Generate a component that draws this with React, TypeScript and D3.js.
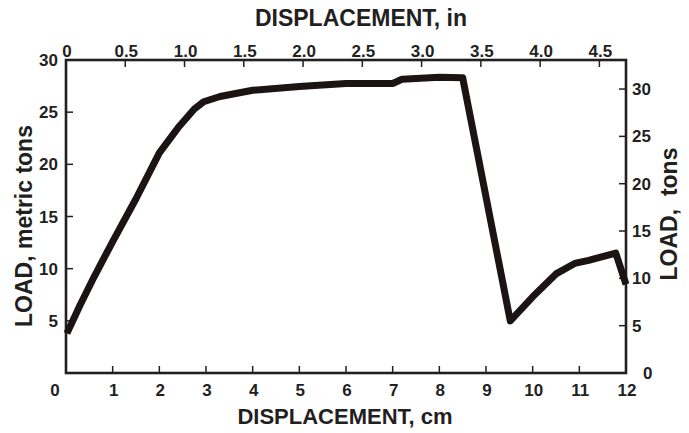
import React from "react";
import * as d3 from "d3";

// load vs displacement
const displacementCm = [0.02, 0.3, 0.6, 1.0, 1.5, 2.0, 2.4, 2.75, 2.95, 3.3, 4.0, 5.0, 6.0, 7.0, 7.2, 8.0, 8.5, 9.52, 10.0, 10.5, 10.9, 11.2, 11.78, 12.0];
const loadMetric = [3.8, 6.5, 9.2, 12.6, 16.7, 21.1, 23.5, 25.3, 26.0, 26.5, 27.1, 27.45, 27.75, 27.75, 28.15, 28.35, 28.3, 5.0, 7.3, 9.5, 10.5, 10.8, 11.5, 8.5];

const cmTicks = [0, 1, 2, 3, 4, 5, 6, 7, 8, 9, 10, 11, 12];
const inTicks = ["0", "0.5", "1.0", "1.5", "2.0", "2.5", "3.0", "3.5", "4.0", "4.5"];
const metricTicks = [5, 10, 15, 20, 25, 30];
const tonTicks = [0, 5, 10, 15, 20, 25, 30];

const CM_PER_IN = 2.54;
const TON_PER_METRIC = 1.10231;

const W = 689, H = 433;
const margin = { left: 66, right: 63, top: 60, bottom: 60 };
const FONT = "'Liberation Sans', Arial, sans-serif";
const INK = "#231f1e";

const App = () => {
  const svgRef = React.useRef(null);

  React.useEffect(() => {
    const width = W - margin.left - margin.right;
    const height = H - margin.top - margin.bottom;

    const x = d3.scaleLinear().domain([0, 12]).range([0, width]);
    const y = d3.scaleLinear().domain([0, 30]).range([height, 0]);
    // same pixels, other units
    const xIn = d3.scaleLinear().domain([0, 12 / CM_PER_IN]).range([0, width]);
    const yTon = d3.scaleLinear().domain([0, 30 * TON_PER_METRIC]).range([height, 0]);

    const svgEl = d3.select(svgRef.current);
    svgEl.selectAll("*").remove();
    const svg = svgEl.append("g").attr("transform", `translate(${margin.left},${margin.top})`);

    const tickLen = 7;

    // bottom cm axis
    const bottom = svg.append("g").attr("transform", `translate(0,${height})`);
    bottom.selectAll("line").data(cmTicks.slice(1, -1)).enter().append("line")
      .attr("x1", (d) => x(d)).attr("x2", (d) => x(d))
      .attr("y1", 0).attr("y2", -tickLen)
      .attr("stroke", INK).attr("stroke-width", 1.5);
    bottom.selectAll("text").data(cmTicks).enter().append("text")
      .attr("x", (d) => x(d) + (d === 0 ? -11 : 1))
      .attr("y", 23)
      .attr("text-anchor", "middle")
      .text((d) => d);

    // top inch axis
    const top = svg.append("g");
    top.selectAll("line").data(inTicks.slice(1)).enter().append("line")
      .attr("x1", (d) => xIn(+d)).attr("x2", (d) => xIn(+d))
      .attr("y1", 0).attr("y2", tickLen)
      .attr("stroke", INK).attr("stroke-width", 1.5);
    top.selectAll("text").data(inTicks).enter().append("text")
      .attr("x", (d) => xIn(+d) + 1)
      .attr("y", -3)
      .attr("text-anchor", "middle")
      .text((d) => d);

    // left metric tons axis
    const left = svg.append("g");
    left.selectAll("line").data(metricTicks.slice(0, -1)).enter().append("line")
      .attr("x1", 0).attr("x2", tickLen)
      .attr("y1", (d) => y(d)).attr("y2", (d) => y(d))
      .attr("stroke", INK).attr("stroke-width", 1.5);
    left.selectAll("text").data(metricTicks).enter().append("text")
      .attr("x", -8)
      .attr("y", (d) => y(d) + 6)
      .attr("text-anchor", "end")
      .text((d) => d);

    // right tons axis
    const right = svg.append("g").attr("transform", `translate(${width},0)`);
    right.selectAll("line").data(tonTicks.slice(1)).enter().append("line")
      .attr("x1", 0).attr("x2", -tickLen)
      .attr("y1", (d) => yTon(d)).attr("y2", (d) => yTon(d))
      .attr("stroke", INK).attr("stroke-width", 1.5);
    right.selectAll("text").data(tonTicks).enter().append("text")
      .attr("x", (d) => (d === 0 ? 17 : 6))
      .attr("y", (d) => yTon(d) + 6)
      .attr("text-anchor", "start")
      .text((d) => d);

    svg.selectAll("text")
      .attr("font-family", FONT).attr("font-weight", "bold")
      .attr("font-size", 17).attr("fill", INK);

    // frame
    svg.append("rect")
      .attr("width", width).attr("height", height)
      .attr("fill", "none").attr("stroke", INK).attr("stroke-width", 2.6);

    // the curve
    const pts = displacementCm.map((d, i) => [d, loadMetric[i]]);
    const line = d3.line()
      .x((d) => x(d[0]))
      .y((d) => y(d[1]));
    svg.append("path")
      .datum(pts)
      .attr("fill", "none")
      .attr("stroke", "#1c1412")
      .attr("stroke-width", 7)
      .attr("stroke-linejoin", "round")
      .attr("d", line);

    // axis titles
    const title = (sel, size) => sel
      .attr("font-family", FONT).attr("font-weight", "bold")
      .attr("font-size", size).attr("fill", INK).attr("text-anchor", "middle");

    svgEl.append("text").call(title, 23)
      .attr("x", 361).attr("y", 26).text("DISPLACEMENT, in");
    svgEl.append("text").call(title, 22)
      .attr("x", 345).attr("y", 424).text("DISPLACEMENT, cm");
    svgEl.append("text").call(title, 23)
      .attr("transform", "translate(32,226) rotate(-90)").text("LOAD, metric tons");
    svgEl.append("text").call(title, 23)
      .attr("transform", "translate(677,214) rotate(-90)").text("LOAD,  tons")
      .attr("xml:space", "preserve").style("white-space", "pre");
  }, []);

  return (
    <svg ref={svgRef} width={W} height={H}
      style={{ position: "absolute", left: 0, top: 0, background: "#fff" }} />
  );
};

export default App;
